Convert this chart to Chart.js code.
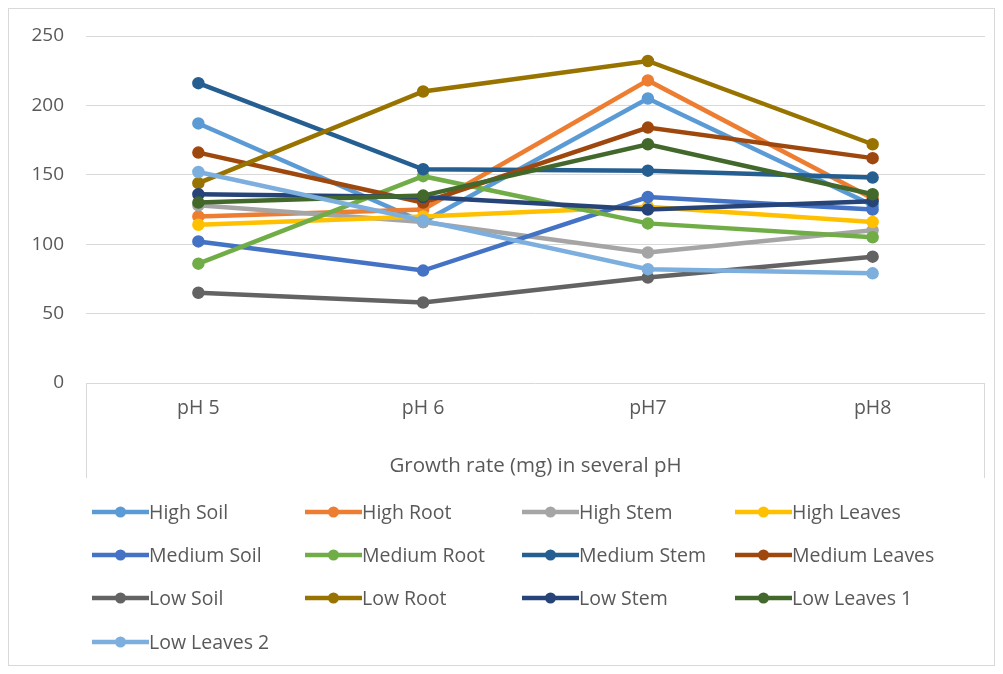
<!DOCTYPE html>
<html>
<head>
<meta charset="utf-8">
<script src="https://cdn.jsdelivr.net/npm/chart.js@4/dist/chart.umd.min.js"></script>
<style>
  html, body { margin: 0; padding: 0; background: #ffffff; }
  #wrap { width: 1003px; height: 674px; }
</style>
</head>
<body>
<div id="wrap"><canvas id="c" width="1003" height="674"></canvas></div>
<script>
// Categories and tick values
const categories = ['pH 5', 'pH 6', 'pH7', 'pH8'];
const yTicks = [0, 50, 100, 150, 200, 250];
const axisTitle = 'Growth rate (mg) in several pH';

// Growth rate per series (mg) at pH 5, 6, 7, 8
const highSoil      = [187, 116, 205, 128];
const highRoot      = [120, 125, 218, 133];
const highStem      = [128, 116, 94, 110];
const highLeaves    = [114, 120, 127, 116];
const mediumSoil    = [102, 81, 134, 125];
const mediumRoot    = [86, 149, 115, 105];
const mediumStem    = [216, 154, 153, 148];
const mediumLeaves  = [166, 130, 184, 162];
const lowSoil       = [65, 58, 76, 91];
const lowRoot       = [144, 210, 232, 172];
const lowStem       = [136, 134, 125, 131];
const lowLeaves1    = [130, 135, 172, 136];
const lowLeaves2    = [152, 117, 82, 79];

const seriesNames = ['High Soil', 'High Root', 'High Stem', 'High Leaves',
  'Medium Soil', 'Medium Root', 'Medium Stem', 'Medium Leaves',
  'Low Soil', 'Low Root', 'Low Stem', 'Low Leaves 1', 'Low Leaves 2'];
const seriesValues = [highSoil, highRoot, highStem, highLeaves,
  mediumSoil, mediumRoot, mediumStem, mediumLeaves,
  lowSoil, lowRoot, lowStem, lowLeaves1, lowLeaves2];
const seriesColors = ['#5B9BD5', '#ED7D31', '#A5A5A5', '#FFC000',
  '#4472C4', '#70AD47', '#255E91', '#9E480E',
  '#636363', '#997300', '#264478', '#43682B', '#7CAFDD'];

const TEXT = '#595959';
const GRID = '#d9d9d9';
const FONT = "'Open Sans', 'Liberation Sans', sans-serif";

const datasets = seriesNames.map((name, i) => ({
  label: name,
  data: seriesValues[i],
  borderColor: seriesColors[i],
  backgroundColor: seriesColors[i],
  pointBackgroundColor: seriesColors[i],
  pointBorderColor: seriesColors[i],
  borderWidth: 4.5,
  pointRadius: 5.5,
  pointBorderWidth: 1.5,
  tension: 0,
  // later series sit on top of earlier ones
  order: seriesNames.length - i
}));

// White page, outer frame and the box under the category axis
const framePlugin = {
  id: 'frame',
  beforeDraw(chart) {
    const ctx = chart.ctx;
    ctx.save();
    ctx.fillStyle = '#ffffff';
    ctx.fillRect(0, 0, chart.width, chart.height);
    ctx.strokeStyle = GRID;
    ctx.lineWidth = 1;
    ctx.strokeRect(8.5, 8.5, chart.width - 17, chart.height - 17);
    const a = chart.chartArea;
    const xs = chart.scales.x;
    ctx.beginPath();
    ctx.moveTo(Math.round(a.left) + 0.5, a.bottom);
    ctx.lineTo(Math.round(a.left) + 0.5, xs.bottom);
    ctx.moveTo(Math.round(a.right) - 0.5, a.bottom);
    ctx.lineTo(Math.round(a.right) - 0.5, xs.bottom);
    ctx.stroke();
    ctx.restore();
  }
};

// Four-column legend below the axis title
const legendPlugin = {
  id: 'gridLegend',
  afterDraw(chart) {
    const ctx = chart.ctx;
    const colX = [92, 305, 522, 735];
    const rowY = [512, 555, 598, 642];
    const lineLen = 57;
    ctx.save();
    ctx.font = '19.5px ' + FONT;
    ctx.textBaseline = 'middle';
    ctx.textAlign = 'left';
    chart.data.datasets.forEach((ds, i) => {
      const x = colX[i % 4];
      const y = rowY[Math.floor(i / 4)];
      ctx.strokeStyle = ds.borderColor;
      ctx.lineWidth = 4.5;
      ctx.beginPath();
      ctx.moveTo(x, y);
      ctx.lineTo(x + lineLen, y);
      ctx.stroke();
      ctx.fillStyle = ds.borderColor;
      ctx.beginPath();
      ctx.arc(x + lineLen / 2, y, 5.5, 0, Math.PI * 2);
      ctx.fill();
      ctx.fillStyle = TEXT;
      ctx.fillText(ds.label, x + lineLen, y + 1);
    });
    ctx.restore();
  }
};

new Chart(document.getElementById('c'), {
  type: 'line',
  data: { labels: categories, datasets },
  plugins: [framePlugin, legendPlugin],
  options: {
    responsive: false,
    animation: false,
    devicePixelRatio: 1,
    layout: { padding: { left: 0, right: 18, top: 36, bottom: 196 } },
    plugins: {
      legend: { display: false },
      tooltip: { enabled: false }
    },
    scales: {
      x: {
        offset: true,
        grid: { display: false, drawTicks: false },
        border: { display: false },
        ticks: { color: TEXT, font: { family: FONT, size: 19.5 }, padding: 14 },
        title: {
          display: true,
          text: axisTitle,
          color: TEXT,
          font: { family: FONT, size: 20.5 },
          padding: { top: 20, bottom: 0 }
        },
        afterFit(scale) { scale.height = 95; }
      },
      y: {
        min: 0,
        max: 250,
        afterBuildTicks(scale) { scale.ticks = yTicks.map(v => ({ value: v })); },
        grid: { color: GRID, lineWidth: 1, drawTicks: false },
        border: { display: false },
        ticks: { color: TEXT, font: { family: FONT, size: 19 }, padding: 22 },
        afterFit(scale) { scale.width = 86; }
      }
    }
  }
});
</script>
</body>
</html>
